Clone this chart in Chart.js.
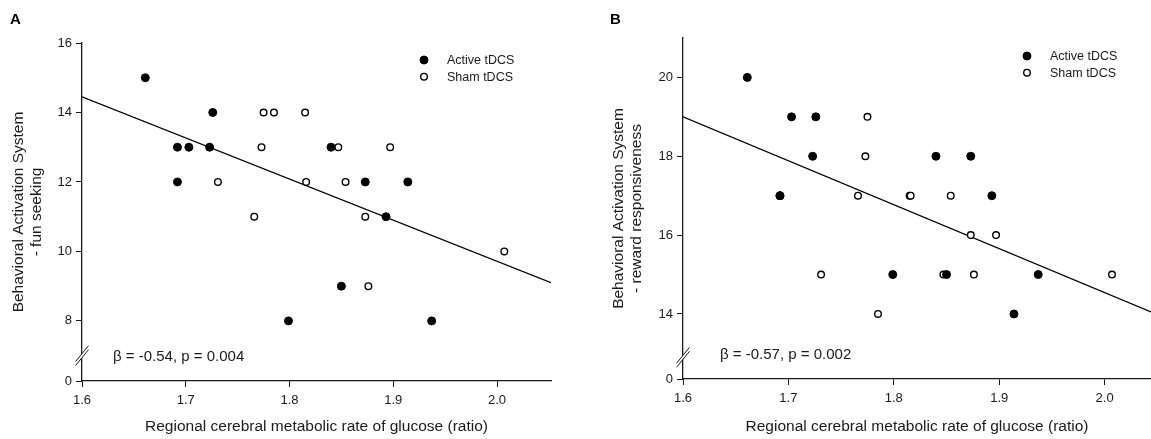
<!DOCTYPE html>
<html>
<head>
<meta charset="utf-8">
<script src="https://cdn.jsdelivr.net/npm/chart.js@4.4.1/dist/chart.umd.min.js"></script>
<style>
  html, body { margin: 0; padding: 0; background: #fff; overflow: hidden; }
  #wrap { position: relative; width: 1151px; height: 439px; overflow: hidden; }
  canvas { position: absolute; top: 0; }
  #chartA { left: 0; }
  #chartB { left: 575px; }
</style>
</head>
<body>
<div id="wrap">
  <canvas id="chartA" width="575" height="439"></canvas>
  <canvas id="chartB" width="596" height="439"></canvas>
</div>
<script>
// Data (same subjects in both panels, so x is shared)
const activeX = [1.661, 1.692, 1.692, 1.703, 1.723, 1.726, 1.799, 1.840, 1.850, 1.873, 1.893, 1.914, 1.937];
const activeFun = [15, 13, 12, 13, 13, 14, 8, 13, 9, 12, 11, 12, 8];
const activeReward = [20, 17, 17, 19, 18, 19, 15, 18, 15, 18, 17, 14, 15];

const shamX = [1.731, 1.766, 1.773, 1.775, 1.785, 1.815, 1.816, 1.847, 1.854, 1.873, 1.876, 1.897, 2.007];
const shamFun = [12, 11, 13, 14, 14, 14, 12, 13, 12, 11, 9, 13, 10];
const shamReward = [15, 17, 18, 19, 14, 17, 17, 15, 17, 16, 15, 16, 15];

// regression line end points
const fitAX = [1.6, 2.052];
const fitAY = [14.45, 9.1];
const fitBX = [1.6, 2.044];
const fitBY = [19.0, 14.05];

// tick labels
const xTicks = [1.6, 1.7, 1.8, 1.9, 2.0];
const yTicksA = [8, 10, 12, 14, 16];
const yTicksB = [14, 16, 18, 20];

const FONT = '"Liberation Sans", Arial, Helvetica, sans-serif';
const INK = '#1a1a1a';

const toPoints = (xs, ys) => xs.map((x, i) => ({ x: x, y: ys[i] }));

// Draws panel letter, stat text, legend and the axis break
const extrasPlugin = {
    id: 'extras',
    afterDraw(chart, args, opts) {
        const ctx = chart.ctx;
        const yScale = chart.scales.y;
        const xAxisLeft = chart.chartArea.left;
        ctx.save();

        // axis break "//"
        const by = yScale.getPixelForValue(opts.breakValue);
        const dx = 6.5, dy = 8, gap = 4;
        ctx.fillStyle = '#fff';
        ctx.beginPath();
        ctx.moveTo(xAxisLeft - dx, by + dy - gap / 2);
        ctx.lineTo(xAxisLeft + dx, by - dy - gap / 2);
        ctx.lineTo(xAxisLeft + dx, by - dy + gap / 2);
        ctx.lineTo(xAxisLeft - dx, by + dy + gap / 2);
        ctx.closePath();
        ctx.fill();
        ctx.strokeStyle = INK;
        ctx.lineWidth = 1;
        [-gap / 2, gap / 2].forEach(o => {
            ctx.beginPath();
            ctx.moveTo(xAxisLeft - dx, by + dy + o);
            ctx.lineTo(xAxisLeft + dx, by - dy + o);
            ctx.stroke();
        });

        // panel letter
        ctx.fillStyle = '#000';
        ctx.font = 'bold 15px ' + FONT;
        ctx.textBaseline = 'middle';
        ctx.textAlign = 'left';
        ctx.fillText(opts.letter, opts.letterX, opts.letterY);

        // stat text
        ctx.fillStyle = INK;
        ctx.font = '15px ' + FONT;
        ctx.fillText(opts.stat, opts.statX, opts.statY);

        // legend
        ctx.font = '12.5px ' + FONT;
        const items = chart.data.datasets.filter(d => d.inLegend);
        items.forEach((d, i) => {
            const ly = opts.legendY + i * 16.7;
            ctx.beginPath();
            ctx.arc(opts.legendX, ly, d.pointRadius, 0, Math.PI * 2);
            ctx.fillStyle = d.backgroundColor;
            ctx.fill();
            ctx.lineWidth = d.borderWidth;
            ctx.strokeStyle = d.borderColor;
            ctx.stroke();
            ctx.fillStyle = INK;
            ctx.fillText(d.label, opts.legendX + 23, ly + 0.5);
        });
        ctx.restore();
    }
};

function makeChart(id, cfg) {
    const ctx = document.getElementById(id).getContext('2d');
    return new Chart(ctx, {
        type: 'scatter',
        data: {
            datasets: [
                {
                    label: 'Active tDCS',
                    inLegend: true,
                    data: toPoints(activeX, cfg.activeY),
                    backgroundColor: '#000',
                    borderColor: '#000',
                    borderWidth: 1,
                    pointRadius: 4,
                    order: 1
                },
                {
                    label: 'Sham tDCS',
                    inLegend: true,
                    data: toPoints(shamX, cfg.shamY),
                    backgroundColor: '#fff',
                    borderColor: '#000',
                    borderWidth: 1.4,
                    pointRadius: 3.3,
                    order: 1
                },
                {
                    label: 'fit',
                    type: 'line',
                    data: toPoints(cfg.fitX, cfg.fitY),
                    borderColor: '#000',
                    borderWidth: 1.3,
                    pointRadius: 0,
                    fill: false,
                    order: 2
                }
            ]
        },
        options: {
            responsive: false,
            animation: false,
            events: [],
            layout: {
                padding: { left: 0, top: cfg.top, right: cfg.padRight, bottom: 0 }
            },
            plugins: {
                legend: { display: false },
                tooltip: { enabled: false },
                extras: cfg.extras
            },
            scales: {
                x: {
                    type: 'linear',
                    min: 1.6,
                    max: cfg.xMax,
                    afterBuildTicks: s => { s.ticks = xTicks.map(v => ({ value: v })); },
                    afterFit: s => { s.height = 439 - cfg.bottom; },
                    grid: { drawOnChartArea: false, drawTicks: true, tickLength: 6, color: INK, lineWidth: 1 },
                    border: { display: true, color: INK, width: 1.3 },
                    ticks: {
                        autoSkip: false,
                        maxRotation: 0,
                        padding: 6,
                        color: INK,
                        font: { family: FONT, size: 13 },
                        callback: v => v.toFixed(1)
                    },
                    title: {
                        display: true,
                        text: 'Regional cerebral metabolic rate of glucose (ratio)',
                        color: INK,
                        font: { family: FONT, size: 15.5 },
                        padding: { top: 0, bottom: 3 }
                    }
                },
                y: {
                    type: 'linear',
                    min: cfg.yMin,
                    max: cfg.yMax,
                    afterBuildTicks: s => { s.ticks = [s.min].concat(cfg.yTicks).map(v => ({ value: v })); },
                    afterFit: s => { s.width = cfg.left; },
                    grid: { drawOnChartArea: false, drawTicks: true, tickLength: 6, color: INK, lineWidth: 1 },
                    border: { display: true, color: INK, width: 1.3 },
                    ticks: {
                        autoSkip: false,
                        padding: 4,
                        color: INK,
                        font: { family: FONT, size: 13 },
                        callback: function (v) { return v === this.min ? '0' : String(v); }
                    },
                    title: {
                        display: true,
                        text: cfg.yTitle,
                        color: INK,
                        font: { family: FONT, size: 15.5, lineHeight: '18px' },
                        padding: { top: cfg.yTitlePad, bottom: 0 }
                    }
                }
            }
        },
        plugins: [extrasPlugin]
    });
}

makeChart('chartA', {
    activeY: activeFun,
    shamY: shamFun,
    fitX: fitAX,
    fitY: fitAY,
    xMax: 2.052,
    yMin: 6.27,
    yMax: 16,
    yTicks: yTicksA,
    top: 43,
    bottom: 381,
    left: 82,
    padRight: 24,
    yTitle: ['Behavioral Activation System', '- fun seeking'],
    yTitlePad: 10,
    extras: {
        breakValue: 7.0,
        letter: 'A', letterX: 10, letterY: 20,
        stat: '\u03B2 = -0.54, p = 0.004', statX: 113, statY: 357,
        legendX: 424, legendY: 60
    }
});

makeChart('chartB', {
    activeY: activeReward,
    shamY: shamReward,
    fitX: fitBX,
    fitY: fitBY,
    xMax: 2.044,
    yMin: 12.35,
    yMax: 21,
    yTicks: yTicksB,
    top: 38,
    bottom: 379,
    left: 108,
    padRight: 20,
    yTitle: ['Behavioral Activation System', '- reward responsiveness'],
    yTitlePad: 35,
    extras: {
        breakValue: 12.9,
        letter: 'B', letterX: 35, letterY: 19.5,
        stat: '\u03B2 = -0.57, p = 0.002', statX: 145, statY: 355,
        legendX: 452, legendY: 56
    }
});
</script>
</body>
</html>
